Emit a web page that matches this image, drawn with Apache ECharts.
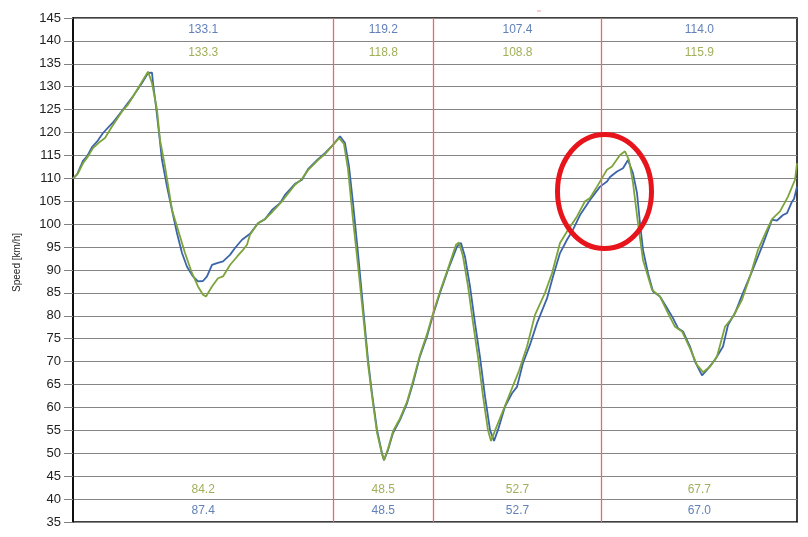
<!DOCTYPE html>
<html>
<head>
<meta charset="utf-8">
<script src="https://cdn.jsdelivr.net/npm/echarts@6/dist/echarts.min.js"></script>
<style>
html,body{margin:0;padding:0;background:#fff;}
#c{width:808px;height:537px;}
</style>
</head>
<body>
<div id="c"></div>
<script>
// distance (arbitrary units) and speed [km/h]
var blueX = [0,4,10,14,19,24,30,40,50,60,69,75,76,79,80,83,86,89,94,99,104,109,114,120,125,130,134,139,144,150,157,162,169,177,185,192,199,207,212,222,229,235,245,252,260,267,272,276,280,285,290,295,299,304,309,311,315,320,327,334,340,347,354,360,367,375,384,388,392,397,402,407,412,417,421,425,432,439,444,450,457,464,474,480,487,494,500,507,517,527,534,537,544,550,555,560,564,567,570,575,580,587,594,600,605,610,617,622,629,634,642,650,655,662,670,679,689,699,704,710,714,719,721,724];
var blueY = [110.0,110.8,113.8,114.8,116.8,118.0,119.9,122.2,125.0,127.9,130.8,133.0,133.1,133.1,130.8,125.7,119.9,114.0,108.2,103.1,98.0,93.7,90.7,88.6,87.5,87.6,88.6,91.1,91.5,91.9,93.3,94.8,96.6,97.9,100.2,101.1,103.1,104.6,106.4,108.8,109.7,112.0,114.2,115.5,117.3,119.2,117.7,112.6,104.6,93.7,82.0,70.4,63.1,55.1,50.0,48.5,50.7,54.4,57.3,60.9,65.3,71.2,75.5,80.2,85.0,90.0,95.1,95.9,92.9,86.4,78.4,71.0,62.4,55.1,52.7,55.1,60.2,63.1,64.5,69.7,73.7,78.4,83.8,88.6,93.7,96.6,98.8,102.0,105.3,108.2,109.3,110.3,111.5,112.2,114.0,111.1,106.8,100.2,94.4,89.3,85.3,84.2,81.7,79.5,77.3,76.6,73.3,70.0,67.0,68.2,70.4,73.3,78.0,80.6,85.0,89.7,95.1,101.0,100.8,102.0,102.4,104.9,105.5,108.2];
var greenX = [0,5,10,15,20,27,32,39,49,55,64,75,79,84,87,92,99,104,112,119,125,130,133,139,145,150,157,164,170,174,177,185,192,199,209,222,229,235,245,252,260,266,271,275,280,285,290,295,299,304,309,311,315,320,327,334,340,347,354,360,367,375,383,386,390,395,400,405,410,415,418,423,429,437,446,454,462,472,479,487,494,504,512,517,524,534,539,547,552,556,560,565,570,579,587,595,602,609,617,624,630,637,644,652,660,669,677,685,694,699,707,715,722,724];
var greenY = [110.0,111.1,113.3,114.8,116.6,118.0,118.8,121.3,124.6,126.1,129.3,133.3,130.8,125.0,118.4,112.6,103.1,99.5,93.7,89.3,86.4,84.6,84.2,86.4,88.2,88.6,91.1,92.9,94.4,95.5,97.7,100.2,101.1,102.6,105.0,108.6,109.9,111.8,114.0,115.3,117.3,118.8,117.5,112.0,101.0,91.0,80.5,69.5,62.5,54.5,49.8,48.5,51.0,54.8,57.6,61.2,65.8,71.5,76.0,80.5,85.3,90.3,95.5,96.0,93.0,86.5,78.5,71.0,62.5,55.0,52.7,55.5,58.7,63.1,68.0,73.3,80.2,85.0,89.3,95.9,98.4,101.7,105.0,105.7,108.2,111.9,112.6,115.1,115.9,114.0,109.0,100.2,92.2,85.7,84.2,80.6,77.6,76.6,72.9,69.3,67.7,68.9,71.1,77.6,79.8,83.5,88.6,94.4,98.8,101.1,102.8,106.0,109.7,113.3];
var sectionBounds = [260.3, 360.3, 528.7];
var sectionStarts = [0, 260.3, 360.3, 528.7];
var sectionEnds = [260.3, 360.3, 528.7, 724];
var topBlue = [133.1, 119.2, 107.4, 114.0];
var topGreen = [133.3, 118.8, 108.8, 115.9];
var botGreen = [84.2, 48.5, 52.7, 67.7];
var botBlue = [87.4, 48.5, 52.7, 67.0];
var yMin = 35, yMax = 145, yStep = 5;

var BLUE_LINE = '#3c64aa', GREEN_LINE = '#7da43a';
var BLUE_TXT = '#3a62a6', GREEN_TXT = '#8a9b30';
var SEP = '#e86a6a';

function zip(xs, ys){ return xs.map(function(x,i){ return [x, ys[i]]; }); }
function labelSeries(vals, yPos, color){
  return {
    type: 'scatter', symbolSize: 0, silent: true, z: 5,
    data: vals.map(function(v,i){ return {value: [(sectionStarts[i]+sectionEnds[i])/2, yPos], txt: v.toFixed(1)}; }),
    label: { show: true, position: 'inside', color: color, fontSize: 12, fontFamily: 'Liberation Sans, Arial, sans-serif',
      formatter: function(p){ return p.data.txt; } }
  };
}

var chart = echarts.init(document.getElementById('c'));
chart.setOption({
  animation: false,
  backgroundColor: '#fff',
  grid: { left: 73, right: 11, top: 18, bottom: 15, show: true, borderColor: '#000', borderWidth: 1.5, backgroundColor: 'transparent' },
  xAxis: { type: 'value', min: 0, max: 724, show: false },
  yAxis: {
    type: 'value', min: yMin, max: yMax, interval: yStep,
    axisLine: { show: true, lineStyle: { color: '#000', width: 1.5 } },
    axisTick: { show: true, length: 9, lineStyle: { color: '#808080', width: 1 } },
    axisLabel: { color: '#222', fontSize: 13, margin: 12, fontFamily: 'Liberation Sans, Arial, sans-serif' },
    splitLine: { show: true, lineStyle: { color: '#858585', width: 1 } }
  },
  graphic: [
    { type: 'text', left: 12, top: 233, rotation: Math.PI/2, style: { text: 'Speed [km/h]', fill: '#222', fontSize: 10, fontFamily: 'Liberation Sans, Arial, sans-serif' }, originX: 0, originY: 0 },
    { type: 'ellipse', shape: { cx: 604.5, cy: 191.5, rx: 47, ry: 57 }, style: { fill: 'none', stroke: '#e8141c', lineWidth: 5 }, z: 100 },
    { type: 'line', shape: { x1: 537, y1: 11, x2: 541, y2: 11 }, style: { stroke: '#f0a0a0', lineWidth: 1 } }
  ],
  series: [
    {
      type: 'line', data: [], silent: true,
      itemStyle: { color: SEP },
      markLine: { silent: true, symbol: ['none','none'], label: { show: false }, animation: false,
        itemStyle: { color: SEP },
        lineStyle: { color: SEP, width: 1.3, type: 'solid', opacity: 1 },
        data: sectionBounds.map(function(x){ return { xAxis: x }; }) }
    },
    {
      type: 'line', data: zip(blueX, blueY), showSymbol: false, symbol: 'none',
      lineStyle: { color: BLUE_LINE, width: 1.8 }, z: 3
    },
    {
      type: 'line', data: zip(greenX, greenY), showSymbol: false, symbol: 'none',
      lineStyle: { color: GREEN_LINE, width: 1.8 }, z: 4
    },
    labelSeries(topBlue, 142.4, BLUE_TXT),
    labelSeries(topGreen, 137.4, GREEN_TXT),
    labelSeries(botGreen, 42.1, GREEN_TXT),
    labelSeries(botBlue, 37.5, BLUE_TXT)
  ]
});
</script>
</body>
</html>
